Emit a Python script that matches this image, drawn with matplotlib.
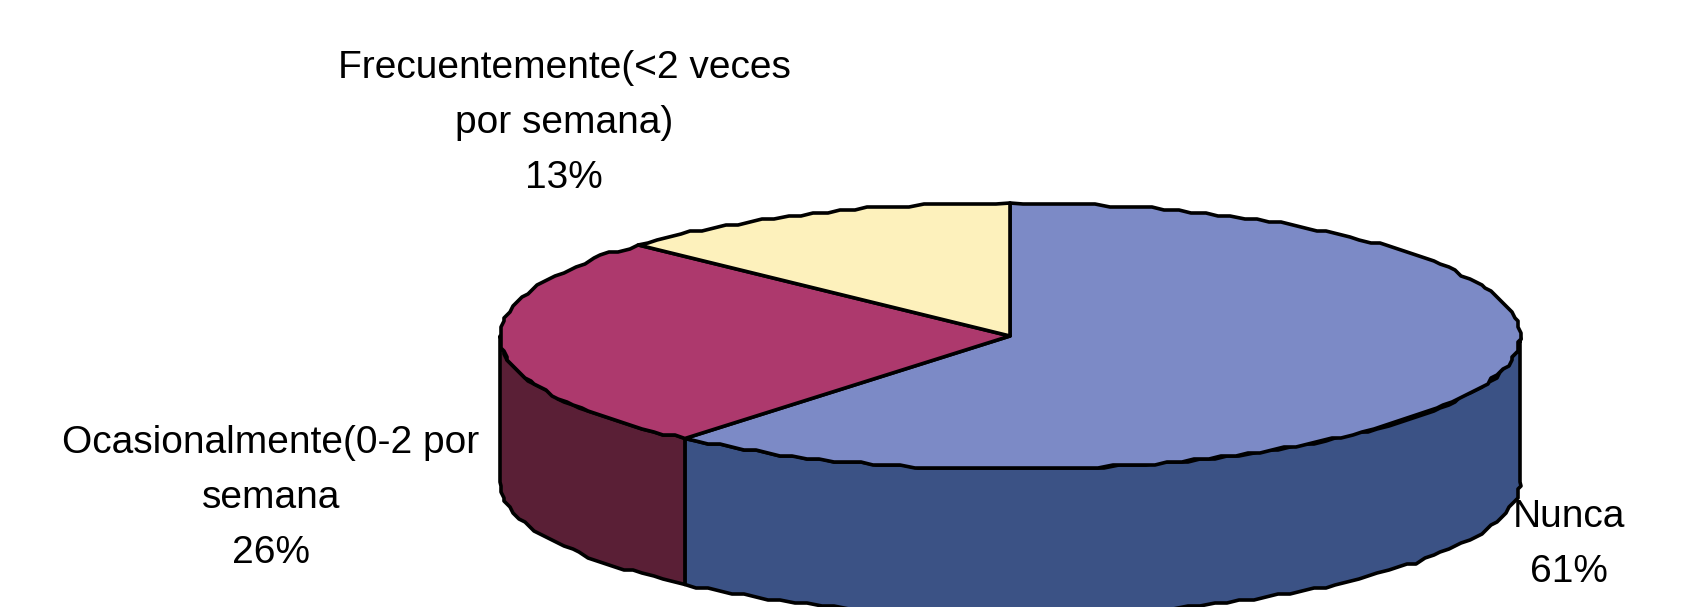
import numpy as np
import matplotlib
matplotlib.use('Agg')
import matplotlib.pyplot as plt
from matplotlib.patches import Polygon

plt.rcParams['font.family'] = ['Liberation Sans', 'DejaVu Sans']

# data
categories = ['Nunca', 'Ocasionalmente(0-2 por\nsemana', 'Frecuentemente(<2 veces\npor semana)']
values = [61, 26, 13]
top_colors = ['#7C8AC6', '#AD396D', '#FDF1BC']
side_colors = ['#3B5285', '#5A1F36', '#D8CCA0']

# where the labels sit, in pixels (centre x, first baseline y)
label_pos = [(1569, 527), (271, 453), (564, 78)]

CX, CY = 1010, 336
RX, RY = 510, 133
DEPTH = 146
SNAP = 3  # the source outline is stair-stepped


def rim(t0, t1, dy=0):
  # points on the ellipse, angle clockwise from 12 o'clock
  n = max(2, int((t1 - t0) / 1.6) + 1)
  t = np.radians(np.linspace(t0, t1, n))
  x = CX + RX * np.sin(t)
  y = CY - RY * np.cos(t) + dy
  x[1:-1] = np.round(x[1:-1] / SNAP) * SNAP
  y[1:-1] = np.round(y[1:-1] / SNAP) * SNAP
  return np.column_stack([x, y])


fig = plt.figure(figsize=(16.87, 6.07), dpi=100)
ax = fig.add_axes([0, 0, 1, 1])
ax.set_xlim(0, 1687)
ax.set_ylim(607, 0)
ax.axis('off')

ends = np.cumsum(values) / np.sum(values) * 360
starts = np.concatenate([[0], ends[:-1]])

# side walls first, only the front half shows
for s, e, c in zip(starts, ends, side_colors):
  a, b = max(s, 90), min(e, 270)
  if a >= b:
    continue
  pts = np.vstack([rim(a, b), rim(a, b, DEPTH)[::-1]])
  ax.add_patch(Polygon(pts, closed=True, fc=c, ec='black', lw=2.6, joinstyle='round'))

# top faces
for s, e, c in zip(starts, ends, top_colors):
  pts = np.vstack([[CX, CY], rim(s, e)])
  ax.add_patch(Polygon(pts, closed=True, fc=c, ec='black', lw=2.6, joinstyle='round'))

# labels, one text per line so the spacing can follow the source
for cat, v, (x, y) in zip(categories, values, label_pos):
  lines = cat.split('\n') + ['%d%%' % v]
  for i, line in enumerate(lines):
    ax.text(x, y + i * 55, line, ha='center', va='baseline', fontsize=28, color='black')

fig.savefig('out.png', dpi=100)
